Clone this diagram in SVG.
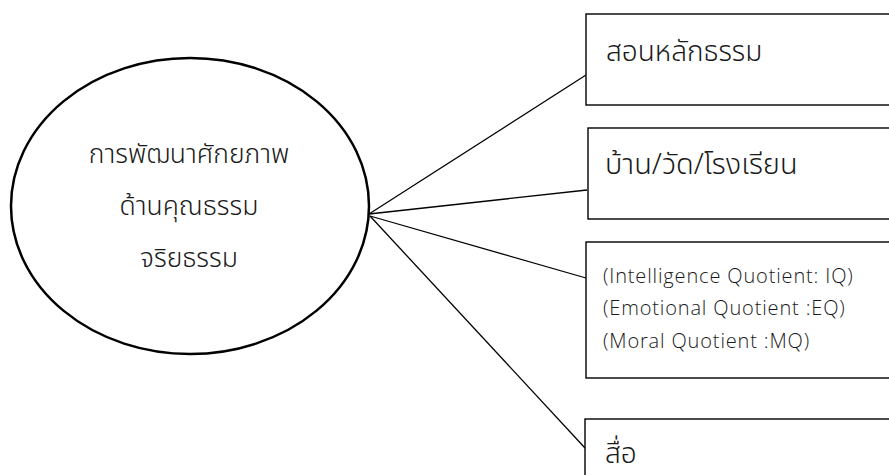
<svg xmlns="http://www.w3.org/2000/svg" width="889" height="475" viewBox="0 0 889 475">
<style>
.th{font-family:"Noto Sans Thai","Noto Sans","DejaVu Sans",sans-serif;font-weight:300;fill:#1a1a1a;}
.en{font-family:"Open Sans","Noto Sans",sans-serif;font-size:20px;font-weight:300;letter-spacing:0.85px;fill:#1a1a1a;}
.box{fill:#fff;stroke:#000;stroke-width:1.4;}
.conn{stroke:#000;stroke-width:1.3;fill:none;}
</style>
<rect width="889" height="475" fill="#fff"/>
<g id="connectors">
<line class="conn" x1="369" y1="214" x2="586" y2="75"/>
<line class="conn" x1="369" y1="214" x2="587" y2="190"/>
<line class="conn" x1="370" y1="216" x2="586" y2="278"/>
<line class="conn" x1="370" y1="216" x2="585" y2="448"/>
</g>
<g id="center">
<ellipse cx="190" cy="206" rx="179" ry="148" fill="none" stroke="#000" stroke-width="2.5"/>
<text class="th" font-size="26.5" text-anchor="middle" x="189" y="163">การพัฒนาศักยภาพ</text>
<text class="th" font-size="26.5" text-anchor="middle" x="189" y="215">ด้านคุณธรรม</text>
<text class="th" font-size="26.5" text-anchor="middle" x="189" y="267">จริยธรรม</text>
</g>
<g id="box1">
<rect class="box" x="586" y="14" width="320" height="91"/>
<text class="th" font-size="28" x="606" y="61">สอนหลักธรรม</text>
</g>
<g id="box2">
<rect class="box" x="588" y="128" width="320" height="91"/>
<text class="th" font-size="29" x="605" y="174">บ้าน/วัด/โรงเรียน</text>
</g>
<g id="box3">
<rect class="box" x="586" y="242" width="320" height="136"/>
<text class="en" x="603" y="283">(Intelligence Quotient: IQ)</text>
<text class="en" x="603" y="315">(Emotional Quotient :EQ)</text>
<text class="en" x="603" y="348">(Moral Quotient :MQ)</text>
</g>
<g id="box4">
<rect class="box" x="585" y="419" width="320" height="80"/>
<text class="th" font-size="28" x="605" y="463">สื่อ</text>
</g>
</svg>
